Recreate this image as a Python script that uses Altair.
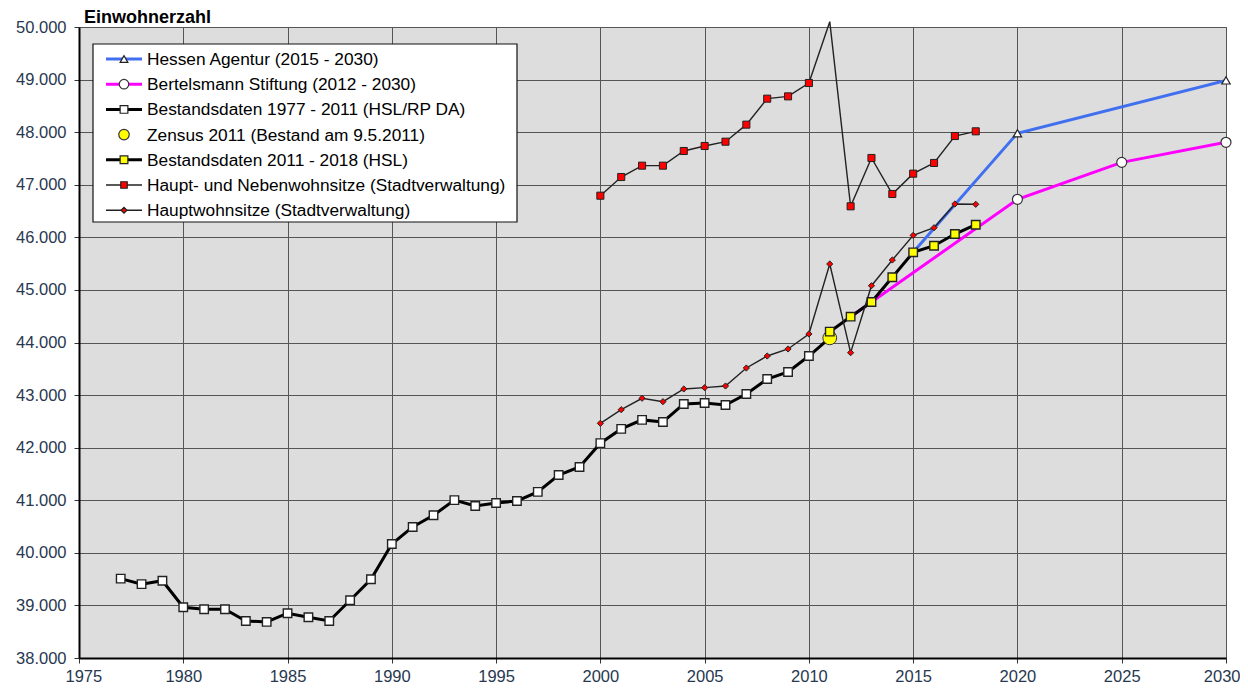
import altair as alt
import pandas as pd

# ---------------- data ----------------
years_bestand_1977 = list(range(1977, 2012))
bestand_1977 = [39510, 39405, 39470, 38965, 38928, 38928, 38704, 38686, 38852, 38776,
                38704, 39098, 39497, 40168, 40492, 40716, 41002, 40891, 40948, 40986,
                41160, 41480, 41633, 42086, 42357, 42528, 42488, 42831, 42850, 42812,
                43021, 43306, 43439, 43743, 44088]

years_bestand_2011 = list(range(2011, 2019))
bestand_2011 = [44206, 44491, 44770, 45240, 45715, 45841, 46063, 46240]

zensus_years = [2011]
zensus = [44088]

years_hn = list(range(2000, 2019))
haupt_neben = [46792, 47147, 47363, 47363, 47642, 47737, 47819, 48143, 48637, 48681,
               48935, 50101, 46590, 47509, 46824, 47211, 47414, 47927, 48016]

years_hw = list(range(2000, 2019))
hauptwohn = [42463, 42722, 42939, 42875, 43116, 43141, 43173, 43515, 43743, 43877,
             44162, 45493, 43806, 45080, 45569, 46038, 46183, 46634, 46628]

years_hessen = [2015, 2020, 2030]
hessen = [45715, 47980, 48985]

years_bertels = [2012, 2020, 2025, 2030]
bertels = [44491, 46723, 47426, 47807]

legend_labels = [
    "Hessen Agentur (2015 - 2030)",
    "Bertelsmann Stiftung (2012 - 2030)",
    "Bestandsdaten 1977 - 2011 (HSL/RP DA)",
    "Zensus 2011 (Bestand am 9.5.2011)",
    "Bestandsdaten 2011 - 2018 (HSL)",
    "Haupt- und Nebenwohnsitze (Stadtverwaltung)",
    "Hauptwohnsitze (Stadtverwaltung)",
]

x_ticks = list(range(1975, 2031, 5))
y_ticks = list(range(38000, 50001, 1000))

# ---------------- styles ----------------
FONT = "Liberation Sans"
BLUE = "#4070F0"
MAGENTA = "#FF00FF"
RED = "#FF0000"
DARK = "#222222"
LABEL = "#283850"


def df(years, values):
    return pd.DataFrame({"year": years, "value": values})


X = alt.X("year:Q",
          scale=alt.Scale(domain=[1975, 2030], nice=False, zero=False),
          axis=alt.Axis(values=x_ticks, format="d", title=None, labelFont=FONT,
                        labelFontSize=16.5, labelColor=LABEL, tickColor="#333333",
                        tickSize=5, labelPadding=5, domainColor="black", domainWidth=2,
                        labelFlush=True, labelFlushOffset=14,
                        grid=True, gridColor="#555555", gridWidth=1))
Y = alt.Y("value:Q",
          scale=alt.Scale(domain=[38000, 50000], nice=False, zero=False),
          axis=alt.Axis(values=y_ticks, title=None, labelFont=FONT, labelFontSize=16.5,
                        labelColor=LABEL, tickColor="#333333", tickSize=5,
                        labelPadding=8, domainColor="black", domainWidth=2,
                        grid=True, gridColor="#555555", gridWidth=1,
                        labelExpr="replace(format(datum.value, ',.0f'), ',', '.')"))


def line(data, color, width, clip=True):
    return alt.Chart(data).mark_line(color=color, strokeWidth=width, clip=clip).encode(x=X, y=Y)


def points(data, shape, fill, stroke, size, sw=1.2):
    return alt.Chart(data).mark_point(shape=shape, filled=True, fill=fill, stroke=stroke,
                                      strokeWidth=sw, size=size, opacity=1).encode(x=X, y=Y)


d_hessen = df(years_hessen, hessen)
d_bertels = df(years_bertels, bertels)
d_b77 = df(years_bestand_1977, bestand_1977)
d_zensus = df(zensus_years, zensus)
d_b11 = df(years_bestand_2011, bestand_2011)
d_hn = df(years_hn, haupt_neben)
d_hw = df(years_hw, hauptwohn)

layers = [
    line(d_hessen, BLUE, 3),
    points(d_hessen[d_hessen.year >= 2020], "triangle-up", "white", DARK, 70),
    line(d_bertels, MAGENTA, 3),
    points(d_bertels[d_bertels.year >= 2020], "circle", "white", "#333333", 100),
    line(d_b77, "black", 3),
    points(d_b77[d_b77.year < 2011], "square", "white", "#222222", 72, 1.4),
    points(d_zensus, "circle", "#FFFF00", "#333333", 190, 1),
    line(d_b11, "black", 3),
    points(d_b11, "square", "#FFFF00", "#222222", 72, 1.4),
    line(d_hn, DARK, 1.4, clip=False),
    points(d_hn[d_hn.value <= 50000], "square", RED, "#222222", 50, 1),
    line(d_hw, DARK, 1.4),
    points(d_hw, "diamond", RED, "#222222", 38, 1),
]

# ---------------- legend (drawn inside plot) ----------------
one = pd.DataFrame({"k": [0]})
layers.append(
    alt.Chart(one).mark_rect(fill="white", stroke="#111111", strokeWidth=1.2).encode(
        x=alt.value(14), x2=alt.value(438), y=alt.value(17), y2=alt.value(195))
)
leg_style = [
    (BLUE, 3, "triangle-up", "white", DARK, 60),
    (MAGENTA, 3, "circle", "white", "#333333", 90),
    ("black", 3, "square", "white", "#222222", 60),
    (None, 0, "circle", "#FFFF00", "#333333", 110),
    ("black", 3, "square", "#FFFF00", "#222222", 60),
    (DARK, 1.4, "square", RED, "#222222", 42),
    (DARK, 1.4, "diamond", RED, "#222222", 34),
]
for i, (lab, st) in enumerate(zip(legend_labels, leg_style)):
    lc, lw, shp, fll, stk, sz = st
    yy = 32 + 25.2 * i
    row = pd.DataFrame({"label": [lab]})
    if lc is not None:
        layers.append(alt.Chart(row).mark_rule(color=lc, strokeWidth=lw).encode(
            x=alt.value(27), x2=alt.value(63), y=alt.value(yy)))
    layers.append(alt.Chart(row).mark_point(shape=shp, filled=True, fill=fll, stroke=stk,
                                            strokeWidth=1.2, size=sz, opacity=1).encode(
        x=alt.value(45), y=alt.value(yy)))
    layers.append(alt.Chart(row).mark_text(align="left", baseline="middle", font=FONT,
                                           fontSize=17.3, color="black").encode(
        x=alt.value(68), y=alt.value(yy + 1), text="label:N"))

# title
layers.append(alt.Chart(pd.DataFrame({"t": ["Einwohnerzahl"]})).mark_text(
    align="left", baseline="alphabetic", font=FONT, fontSize=18, fontWeight="bold",
    color="black").encode(x=alt.value(5), y=alt.value(-4), text="t:N"))

chart = alt.layer(*layers).properties(
    width=1147, height=631,
    padding={"left": 71, "top": 19, "right": 14, "bottom": 25},
    autosize=alt.AutoSizeParams(type="none"),
    background="white",
).configure_view(fill="#DDDDDD", stroke="#555555", strokeWidth=1)

chart.save("out.html", embed_options={"renderer": "svg", "actions": False})
